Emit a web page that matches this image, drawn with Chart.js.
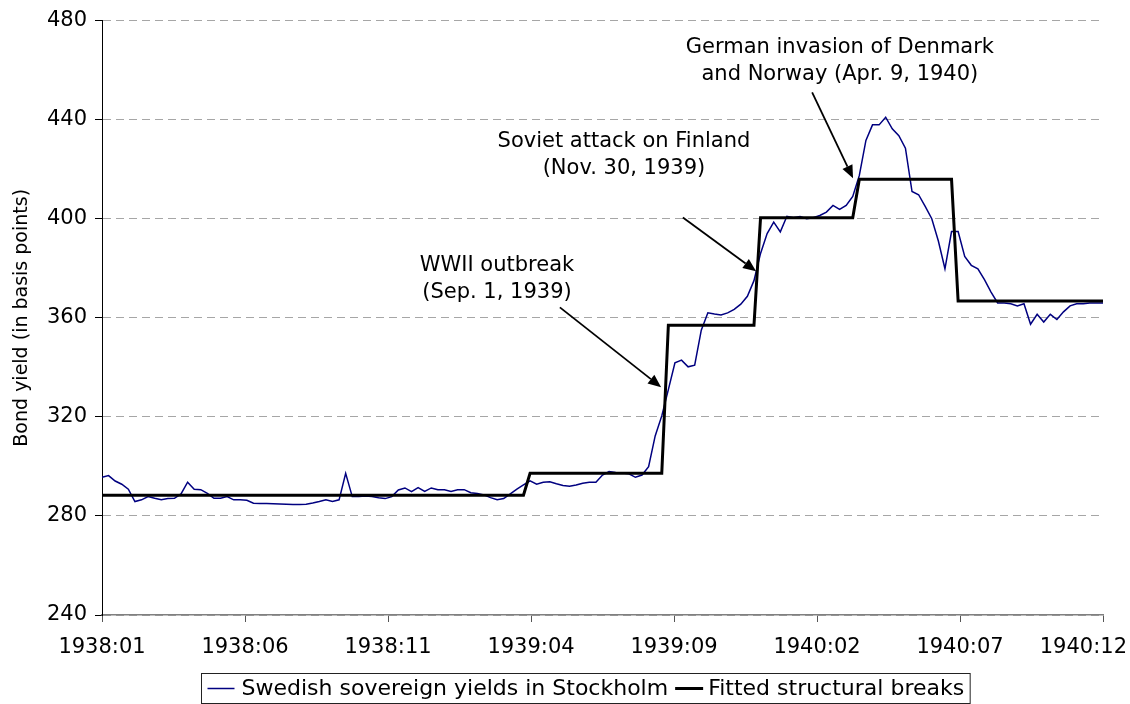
<!DOCTYPE html>
<html>
<head>
<meta charset="utf-8">
<script src="https://cdn.jsdelivr.net/npm/chart.js@4"></script>
<style>
  html, body { margin: 0; padding: 0; background: #fff; }
</style>
</head>
<body>
<canvas id="chart" width="1130" height="704"></canvas>
<script>
// x axis is in months counted from 1938:01, one yield per week
const tickMonths = [0, 5, 10, 15, 20, 25, 30, 35];
const tickLabels = ['1938:01', '1938:06', '1938:11', '1939:04', '1939:09', '1940:02', '1940:07', '1940:12'];

const yields = [
  295.6, 296.3, 294.1, 292.8, 290.8, 285.8, 286.5, 287.8, 287.1, 286.5,
  287.0, 287.1, 288.9, 293.6, 290.8, 290.6, 289.1, 287.1, 287.1, 287.8,
  286.5, 286.5, 286.3, 285.1, 285.0, 285.0, 284.9, 284.8, 284.7, 284.6,
  284.6, 284.7, 285.2, 285.8, 286.5, 285.8, 286.5, 297.2, 287.8, 287.8,
  288.0, 287.8, 287.3, 287.0, 287.8, 290.5, 291.3, 289.8, 291.4, 289.9,
  291.3, 290.6, 290.6, 289.9, 290.6, 290.6, 289.4, 289.1, 288.5, 287.4,
  286.5, 287.0, 288.9, 290.8, 292.5, 294.2, 292.8, 293.6, 293.8, 293.0,
  292.3, 292.0, 292.5, 293.2, 293.6, 293.6, 296.5, 297.9, 297.5, 297.3,
  297.0, 295.6, 296.5, 299.9, 312.3, 320.4, 331.0, 341.8, 342.9, 340.2,
  340.9, 355.0, 362.0, 361.5, 361.1, 362.0, 363.4, 365.5, 368.7, 375.0,
  386.0, 394.0, 398.6, 394.7, 401.0, 400.4, 400.9, 400.0, 400.4, 401.3,
  402.7, 405.4, 403.8, 405.4, 409.0, 417.5, 431.6, 437.9, 437.9, 441.0,
  436.3, 433.5, 428.5, 411.0, 409.7, 405.0, 400.0, 391.0, 379.8, 394.8,
  394.8, 384.8, 381.2, 379.8, 375.4, 370.4, 366.0, 366.0, 365.7, 364.8,
  365.7, 357.4, 361.4, 358.3, 361.4, 359.3, 362.4, 364.8, 365.7, 365.7,
  366.0, 366.0, 366.0
];

// fitted regimes: first week of each regime and its level
const breakStarts = [0, 65, 86, 100, 115, 130];
const breakLevels = [288.4, 297.2, 357.0, 400.4, 415.9, 366.8];

// annotations (text anchor, arrow start, arrow tip) in axis units
const notes = [
  { lines: ['WWII outbreak', '(Sep. 1, 1939)'], at: [13.81, 381.2], from: [16.01, 364.2], to: [19.55, 332.0] },
  { lines: ['Soviet attack on Finland', '(Nov. 30, 1939)'], at: [18.25, 431.2], from: [20.31, 400.5], to: [22.87, 378.8] },
  { lines: ['German invasion of Denmark', 'and Norway (Apr. 9, 1940)'], at: [25.80, 469.1], from: [24.83, 451.0], to: [26.26, 416.3] }
];

const weekStep = 35 / (yields.length - 1);
const yieldPts = yields.map((v, i) => ({ x: i * weekStep, y: v }));
const fittedPts = yields.map((v, i) => {
  let k = 0;
  while (k + 1 < breakStarts.length && i >= breakStarts[k + 1]) k++;
  return { x: i * weekStep, y: breakLevels[k] };
});

const FONT = '"DejaVu Sans", Verdana, sans-serif';
Chart.defaults.font.family = FONT;
Chart.defaults.color = '#000';

function arrow(ctx, x1, y1, x2, y2) {
  const a = Math.atan2(y2 - y1, x2 - x1);
  const len = 13, half = 5.5;
  const bx = x2 - len * Math.cos(a), by = y2 - len * Math.sin(a);
  ctx.beginPath();
  ctx.moveTo(x1, y1);
  ctx.lineTo(bx, by);
  ctx.lineWidth = 1.8;
  ctx.strokeStyle = '#000';
  ctx.stroke();
  ctx.beginPath();
  ctx.moveTo(x2, y2);
  ctx.lineTo(bx + half * Math.sin(a), by - half * Math.cos(a));
  ctx.lineTo(bx - half * Math.sin(a), by + half * Math.cos(a));
  ctx.closePath();
  ctx.fillStyle = '#000';
  ctx.fill();
}

const extras = {
  id: 'extras',
  afterDraw(chart) {
    const { ctx, chartArea } = chart;
    const x = chart.scales.x, y = chart.scales.y;
    ctx.save();
    ctx.fillStyle = '#000';
    ctx.textBaseline = 'middle';

    // x tick labels, last one kept inside the canvas
    ctx.font = '21px ' + FONT;
    ctx.textAlign = 'left';
    tickMonths.forEach((m, i) => {
      const w = ctx.measureText(tickLabels[i]).width;
      const left = Math.min(x.getPixelForValue(m) - w / 2, chart.width - 3 - w);
      ctx.fillText(tickLabels[i], left, chartArea.bottom + 33);
    });

    // event annotations
    notes.forEach(n => {
      const tx = x.getPixelForValue(n.at[0]), ty = y.getPixelForValue(n.at[1]);
      ctx.textAlign = 'center';
      ctx.fillStyle = '#000';
      n.lines.forEach((s, k) => ctx.fillText(s, tx, ty + k * 27));
      arrow(ctx, x.getPixelForValue(n.from[0]), y.getPixelForValue(n.from[1]),
                 x.getPixelForValue(n.to[0]), y.getPixelForValue(n.to[1]));
    });

    // boxed legend under the axis
    const ds = chart.data.datasets;
    ctx.font = '22px ' + FONT;
    const w0 = ctx.measureText(ds[0].label).width;
    const w1 = ctx.measureText(ds[1].label).width;
    const boxW = 6 + 27 + 7 + w0 + 7 + 28 + 5 + w1 + 6;
    const bx = Math.round(585 - boxW / 2) + 0.5, by = 673.5, bh = 30;
    ctx.lineWidth = 1;
    ctx.strokeStyle = '#222';
    ctx.strokeRect(bx, by, boxW, bh);
    const cy = by + bh / 2;
    let cx = bx + 6;
    ctx.textAlign = 'left';
    [[ds[0], w0, 27, 7], [ds[1], w1, 28, 5]].forEach(([d, w, sw, gap]) => {
      ctx.beginPath();
      ctx.moveTo(cx, cy);
      ctx.lineTo(cx + sw, cy);
      ctx.lineWidth = d.borderWidth;
      ctx.strokeStyle = d.borderColor;
      ctx.stroke();
      cx += sw + gap;
      ctx.fillStyle = '#000';
      ctx.fillText(d.label, cx, cy + 1);
      cx += w + 7;
    });
    ctx.restore();
  }
};

new Chart(document.getElementById('chart'), {
  type: 'line',
  data: {
    datasets: [
      {
        label: 'Swedish sovereign yields in Stockholm',
        data: yieldPts,
        borderColor: '#000080',
        borderWidth: 1.5,
        pointRadius: 0,
        tension: 0,
        order: 1
      },
      {
        label: 'Fitted structural breaks',
        data: fittedPts,
        borderColor: '#000000',
        borderWidth: 3,
        pointRadius: 0,
        tension: 0,
        order: 0
      }
    ]
  },
  options: {
    responsive: false,
    animation: false,
    devicePixelRatio: 1,
    layout: { padding: { top: 20, right: 27, bottom: 49, left: 0 } },
    plugins: {
      legend: { display: false },
      tooltip: { enabled: false }
    },
    scales: {
      x: {
        type: 'linear',
        min: 0,
        max: 35,
        afterBuildTicks: s => { s.ticks = tickMonths.map(v => ({ value: v })); },
        afterFit: s => { s.height = 40; },
        ticks: { display: false },
        grid: { drawOnChartArea: false, drawTicks: true, tickLength: 7, tickColor: '#555', color: '#555' },
        border: { color: '#808080', width: 1.5 }
      },
      y: {
        min: 240,
        max: 480,
        afterFit: s => { s.width = 102; },
        ticks: { stepSize: 40, padding: 8, color: '#000', font: { size: 21 } },
        grid: { color: '#a6a6a6', lineWidth: 1, tickLength: 7, tickColor: '#000' },
        border: { color: '#000', width: 1, dash: [8, 5] },
        title: {
          display: true,
          text: 'Bond yield (in basis points)',
          color: '#000',
          font: { size: 19 },
          padding: { top: 11, bottom: 0 }
        }
      }
    }
  },
  plugins: [extras]
});
</script>
</body>
</html>
